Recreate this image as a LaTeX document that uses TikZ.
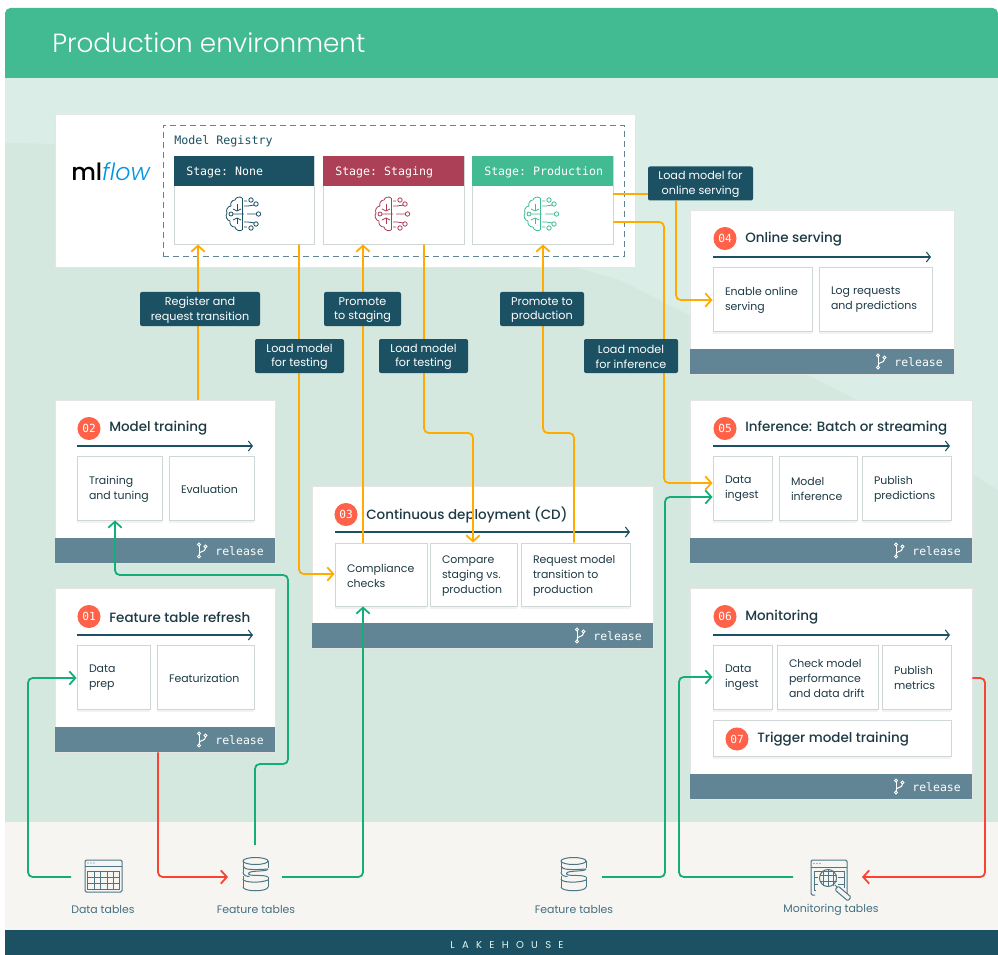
\documentclass[tikz,border=0pt]{standalone}
\usepackage{fontspec}
\setmainfont{Poppins}
\setmonofont{DejaVu Sans Mono}
\newfontfamily\lightfont{Poppins Light}
\newfontfamily\medfont{Poppins Medium}
\usetikzlibrary{arrows.meta,shadows,calc}
\definecolor{hdr}{HTML}{42BB92}
\definecolor{bgA}{HTML}{D5E8E0}
\definecolor{bgB}{HTML}{DAEDE6}
\definecolor{bgC}{HTML}{F7F5F1}
\definecolor{navy}{HTML}{1B5162}
\definecolor{foot}{HTML}{618594}
\definecolor{rose}{HTML}{AB4057}
\definecolor{badge}{HTML}{FF6149}
\definecolor{orng}{HTML}{FFAB00}
\definecolor{grn}{HTML}{14AE78}
\definecolor{redl}{HTML}{FA4332}
\definecolor{ink}{HTML}{1E3A45}
\definecolor{edge}{HTML}{CFD6D6}
\definecolor{icon}{HTML}{4A7686}
\tikzset{
  px/.style={x=0.75pt,y=-0.75pt},
  cardbox/.style={draw=white!90!black,line width=.5pt,fill=white,inner sep=0pt},
  footbar/.style={fill=foot,inner sep=0pt},
  rel/.style={font=\ttfamily\fontsize{8.6}{10}\selectfont,text=white,inner sep=0pt,anchor=east},
  inbox/.style={draw=edge,line width=.7pt,fill=white,inner ysep=0pt,inner xsep=9pt,
    font=\fontsize{8.2}{11.25}\selectfont,text=ink,
    general shadow={shadow yshift=-2pt,fill=black,opacity=.05}},
  trig/.style={draw=edge,line width=.7pt,fill=white,inner sep=0pt,
    general shadow={shadow yshift=-2pt,fill=black,opacity=.05}},
  numb/.style={circle,fill=badge,text=white,inner sep=0pt,minimum size=17.3pt,font=\ttfamily\fontsize{8.4}{10}\selectfont},
  ttl/.style={anchor=west,inner sep=0pt,text=ink,yshift=-.4pt,font=\medfont\fontsize{10.1}{12}\selectfont},
  flowline/.style={draw=navy,line width=.8pt,-{Straight Barb[length=3pt,width=7.5pt]}},
  tag/.style={fill=navy,rounded corners=1.5pt,text=white,inner sep=0pt,minimum height=25.5pt,
    font=\fontsize{8.4}{10.9}\selectfont},
  stagehead/.style={inner sep=0pt,text=white,anchor=west,font=\ttfamily\fontsize{8.7}{10}\selectfont},
  conn/.style={line width=1.35pt,rounded corners=3.5pt},
  tip/.style={-{Straight Barb[length=4.5pt,width=10pt,line width=1.35pt]}},
  org/.style={conn,draw=orng},
  gr/.style={conn,draw=grn},
  rd/.style={conn,draw=redl},
  iconl/.style={draw=icon,line width=.75pt},
  tbl/.style={inner sep=0pt,text=icon!85!navy,yshift=-.6pt,font=\fontsize{8.2}{10}\selectfont},
}
% #1 name, #2..#5 x1 y1 x2 y2, #6 text
\newcommand{\inner}[6]{%
  \pgfmathsetlengthmacro{\tw}{(#4-#2-24)*.75pt}%
  \pgfmathsetlengthmacro{\th}{(#5-#3)*.75pt}%
  \node[inbox,minimum height=\th] (#1) at ({(#2+#4)/2},{(#3+#5)/2}) {\raisebox{-.8pt}[\height][\depth]{\parbox{\tw}{\raggedright #6}}};}
% #1 name, #2 width, #3 x, #4 y, #5 text
\newcommand{\tagn}[5]{%
  \node[tag,minimum width=#2] (#1) at (#3,#4) {\raisebox{-.7pt}[\height][\depth]{\parbox{#2}{\centering #5}}};}
\newcommand{\gitglyph}[2]{%
  \begin{scope}[shift={(#1,#2)},draw=white,line width=.75pt]
    \draw (-3,-6) circle (1.5); \draw (-3,6) circle (1.5); \draw (3.5,-4) circle (1.5);
    \draw (-3,-4.5) -- (-3,4.5);
    \draw (3.5,-2.5) .. controls (3.5,2) and (-3,0) .. (-3,4);
  \end{scope}}
% #1 name #2..#5 box, #6 badge offset, #7 number
\newcommand{\card}[7]{%
  \pgfmathsetlengthmacro{\tw}{(#4-#2)*.75pt}%
  \pgfmathsetlengthmacro{\th}{(#5-#3)*.75pt}%
  \node[cardbox,minimum width=\tw,minimum height=\th] (#1) at ({(#2+#4)/2},{(#3+#5)/2}) {};
  \node[footbar,minimum width=\tw,minimum height=18.75pt] (#1f) at ({(#2+#4)/2},{#5-12.5}) {};
  \node[rel] (#1r) at ({#4-11},{#5-12}) {release};
  \gitglyph{#4-73}{#5-12.5}
  \node[numb] (#1n) at ({#2+#6},{#3+28.5}) {#7};}
\newcommand{\brain}[3]{%
  \begin{scope}[shift={(#1,#2)},draw=#3,line width=.6pt]
    \draw (-1,-16) to[bend right=60] (-8,-14) to[bend right=60] (-12,-8) to[bend right=60] (-16,-1)
      to[bend right=60] (-13,7) to[bend right=60] (-8,13) to[bend right=60] (-1,16);
    \draw (-1,-16) -- (-1,16);
    \draw (-10,-5) -- (-6,-3) -- (-2,-5); \draw (-6,-10) -- (-6,-3);
    \draw (-12,0) circle (2) (-10,0) -- (1,0);
    \draw (-10,6) -- (-6,4) -- (-2,6); \draw (-6,4) -- (-6,10);
    \draw (1,-13) -- (4,-13) (8,-14) circle (2.2);
    \draw (1,-8) -- (5,-8) -- (11.5,-9) (13,-10) circle (2.2);
    \draw (4,0) -- (13,0) (15.5,0) circle (2.2);
    \draw (1,8) -- (5,8) -- (11.5,9) (13,10) circle (2.2);
    \draw (1,13) -- (4,13) (8,14) circle (2.2);
  \end{scope}}
\newcommand{\dbicon}[2]{%
  \begin{scope}[shift={(#1,#2)},iconl]
    \draw (0,-14) ellipse (12.5 and 3.5);
    \draw (-12.5,-14) -- (-12.5,-3) (12.5,-14) -- (12.5,-7);
    \draw (-12.5,-9) .. controls (-12,-5) and (-2,-5) .. (12.5,-6);
    \draw (12.5,-6) .. controls (12,-3) and (-7,-5) .. (-7,-1.5) .. controls (-7,2) and (8,-1) .. (12.5,2);
    \draw (-12.5,-3) .. controls (-12.5,1) and (-8,1.5) .. (-6,1.5);
    \draw (-12.5,1) -- (-12.5,12) (12.5,2) -- (12.5,12);
    \draw (-12.5,4) .. controls (-12,8) and (6,8) .. (12.5,5);
    \draw (-12.5,12) .. controls (-12,17) and (12,17) .. (12.5,12);
  \end{scope}}
\begin{document}
\begin{tikzpicture}[px]
\useasboundingbox (0,0) rectangle (998,955);
\fill[white] (0,0) rectangle (998,955);
\fill[bgC] (5,78) rectangle (998,930);
\fill[bgA] (5,78) rectangle (998,822);
\fill[bgB] (5,78) -- (5,143) .. controls (60,143) and (120,147) .. (200,160) -- (620,280) -- (853,398) -- (998,490) -- (998,78) -- cycle;
\fill[hdr,rounded corners=4pt] (5,30) -- (5,8) -- (998,8) -- (998,30) -- cycle;
\fill[hdr] (5,20) rectangle (998,78);
\fill[navy] (5,930) rectangle (998,955);
\node[anchor=west,inner sep=0pt,text=white,font=\lightfont\fontsize{19.7}{24}\selectfont] (title) at (52,42.5) {Production environment};
\node[inner sep=0pt,text=white!85!hdr,font=\fontsize{7.5}{10}\selectfont] (lake) at (507,945) {\addfontfeature{LetterSpace=73}LAKEHOUSE};

% registry
\node[cardbox,minimum width=435pt,minimum height=114.75pt] (reg) at (345,190.5) {};
\node[inner sep=0pt,anchor=base west,font=\medfont\fontsize{17.8}{20}\selectfont] (mlf) at (71,180.5) {ml\textcolor[HTML]{0194E2}{\lightfont\itshape flow}};
\node[draw=foot,dashed,dash pattern=on 4.5pt off 3pt,line width=.7pt,inner sep=0pt,minimum width=345.75pt,minimum height=98.25pt] (dash) at (393.5,190.5) {};
\node[inner sep=0pt,anchor=west,text=navy,font=\ttfamily\fontsize{8.75}{10}\selectfont] (mr) at (174,141.5) {Model Registry};
\foreach \n/\xa/\xb/\col/\txt in {sn/174/314/navy/{Stage: None},ss/323/464/rose/{Stage: Staging},sp/472/613/hdr/{Stage: Production}}{
  \pgfmathsetlengthmacro{\tw}{(\xb-\xa)*.75pt}
  \node[draw=edge,fill=white,line width=.7pt,inner sep=0pt,minimum width=\tw,minimum height=66pt] (\n) at ({(\xa+\xb)/2},200) {};
  \node[fill=\col,inner sep=0pt,minimum width=\tw,minimum height=22.5pt] (\n h) at ({(\xa+\xb)/2},171) {};
  \node[stagehead] (\n t) at ({\xa+12},172) {\txt};
}
\brain{243}{214}{navy}
\brain{392}{214}{rose}
\brain{541}{214}{hdr}

% cards
\card{c04}{690}{210}{954}{374}{35}{04}
\node[ttl] (t04) at (745,239) {Online serving};
\draw[flowline] (713,257) -- (931,257);
\inner{a41}{713}{267}{812}{331}{Enable online\\serving}
\inner{a42}{819}{267}{932}{331}{Log requests\\and predictions}

\card{c05}{690}{400}{972}{563}{35}{05}
\node[ttl] (t05) at (745,428) {Inference: Batch or streaming};
\draw[flowline] (713,446) -- (950,446);
\inner{a51}{713}{456}{772}{520}{Data\\ingest}
\inner{a52}{779}{456}{857}{520}{Model\\inference}
\inner{a53}{862}{456}{951}{520}{Publish\\predictions}

\card{c06}{690}{588}{972}{799}{35}{06}
\node[ttl] (t06) at (745,617) {Monitoring};
\draw[flowline] (713,635) -- (950,635);
\inner{a61}{713}{645}{772}{709}{Data\\ingest}
\inner{a62}{777}{645}{878}{709}{Check model\\performance\\and data drift}
\inner{a63}{882}{645}{951}{709}{Publish\\metrics}
\node[trig,minimum width=178.5pt,minimum height=27pt] (a64) at (832,738) {};
\node[numb] (n07) at (737,739) {07};
\node[ttl] (t07) at (757,739) {Trigger model training};

\card{c02}{55}{400}{275}{563}{34}{02}
\node[ttl] (t02) at (109,428) {Model training};
\draw[flowline] (77,446) -- (253,446);
\inner{a21}{77}{456}{162}{520}{Training\\and tuning}
\inner{a22}{169}{456}{254}{520}{Evaluation}

\card{c01}{55}{588}{275}{752}{34}{01}
\node[ttl] (t01) at (109,617) {Feature table refresh};
\draw[flowline] (77,635) -- (253,635);
\inner{a11}{77}{645}{150}{709}{Data\\prep}
\inner{a12}{157}{645}{254}{709}{Featurization}

\card{c03}{312}{486}{653}{648}{34}{03}
\node[ttl] (t03) at (366,514) {Continuous deployment (CD)};
\draw[flowline] (335,532) -- (630,532);
\inner{a31}{335}{543}{427}{606}{Compliance\\checks}
\inner{a32}{430}{543}{517}{606}{Compare\\staging vs.\\production}
\inner{a33}{521}{543}{630}{606}{Request model\\transition to\\production}

% bottom icons and labels
\node[tbl] (ldt) at (103,909) {Data tables};
\node[tbl] (lft) at (256,909) {Feature tables};
\node[tbl] (lft2) at (574,909) {Feature tables};
\node[tbl] (lmt) at (831,909) {Monitoring tables};
\begin{scope}[iconl]
  \draw[rounded corners=1pt] (85,860) rectangle (122,892);
  \draw (85,866.5) -- (122,866.5) (87.5,871) -- (119.5,871) (87.5,871) -- (87.5,889.5) -- (119.5,889.5) -- (119.5,871);
  \draw (87.5,877) -- (119.5,877) (87.5,883) -- (119.5,883);
  \foreach \x in {94,100.5,107,113} \draw (\x,871) -- (\x,889.5);
  \fill[icon] (88,863) circle (.7) (91,863) circle (.7) (94,863) circle (.7);
\end{scope}
\dbicon{255.5}{875}
\dbicon{573.5}{875}
\begin{scope}[iconl]
  \draw[rounded corners=1pt] (842,895) -- (847,895) -- (847,860) -- (811,860) -- (811,895) -- (815,895);
  \draw (811,867) -- (847,867);
  \fill[icon] (814,863.5) circle (.7) (817,863.5) circle (.7) (820,863.5) circle (.7);
  \draw (814,871) -- (844,871) (814,890) -- (816,890) (814,871) -- (814,890);
  \draw (814,877) -- (818,877) (814,884) -- (818,884) (838,877) -- (844,877) (838,884) -- (844,884) (844,871) -- (844,888);
  \draw (828,878) circle (8.5);
  \draw (828,869.5) -- (828,886.5) (823,870.5) -- (823,885.5) (833,870.5) -- (833,885.5) (819.5,875) -- (836.5,875) (819.5,881) -- (836.5,881);
  \draw (835,885) -- (838,888);
  \draw[rounded corners=1pt,fill=bgC] (838,886) -- (851,897) -- (848,901) -- (835,890) -- cycle;
\end{scope}
\coordinate (idtL) at (71,877);
\coordinate (iftU) at (255,845);
\coordinate (iftL) at (228,877);
\coordinate (iftR) at (282,877);
\coordinate (ift2R) at (602,877);
\coordinate (imtL) at (793,877);
\coordinate (imtR) at (862,877);

% connectors
\draw[org,tip] (c02.north -| 198,0) -- (sn.south -| 198,0);
\draw[org,tip] (sn.south -| 299,0) -- (299,574) -- (a31.west |- 0,574);
\draw[org,tip] (a31.north -| 363,0) -- (ss.south -| 363,0);
\draw[org,tip] (ss.south -| 424,0) -- (424,433) -- (473,433) -- (a32.north -| 473,0);
\draw[org,tip] (a33.north -| 574,0) -- (574,433) -- (543,433) -- (sp.south -| 543,0);
\draw[org,tip] (sp.east |- 0,222) -- (664,222) -- (664,483) -- (a51.west |- 0,483);
\draw[gr,tip] (idtL) -- (28,877) -- (28,678) -- (a11.west |- 0,678);
\draw[gr,tip] (iftU) -- (255,764) -- (288,764) -- (288,575) -- (115,575) -- (a21.south -| 115,0);
\draw[gr,tip] (iftR) -- (363,877) -- (a31.south -| 363,0);
\draw[gr,tip] (ift2R) -- (665,877) -- (665,497) -- (a51.west |- 0,497);
\draw[gr,tip] (imtL) -- (679,877) -- (679,677) -- (a61.west |- 0,677);
\draw[rd,tip] (c01.south -| 158,0) -- (158,877) -- (iftL);
\draw[rd,tip] (c06.east |- 0,678) -- (985,678) -- (985,877) -- (imtR);

% connector labels
\tagn{l1}{90pt}{200}{309}{Register and\\request transition}
\tagn{l2}{66.75pt}{299.5}{356}{Load model\\for testing}
\tagn{l3}{57.75pt}{362.5}{309}{Promote\\to staging}
\tagn{l4}{66.75pt}{423.5}{356}{Load model\\for testing}
\tagn{l5}{63pt}{542}{309}{Promote to\\production}
\tagn{l6}{70.5pt}{631}{356}{Load model\\for inference}
\tagn{l7}{78.75pt}{700.5}{183.5}{Load model for\\online serving}
\draw[org] (sp.east |- 0,194) -- (l7.west |- 0,194);
\draw[org,tip] (l7.south -| 676,0) -- (676,300) -- (a41.west |- 0,300);
\end{tikzpicture}
\end{document}
